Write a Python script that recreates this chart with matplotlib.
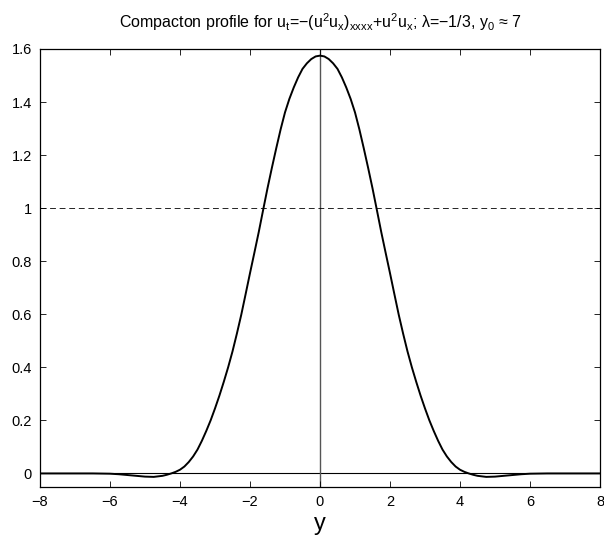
import numpy as np
import matplotlib
matplotlib.use("Agg")
import matplotlib.pyplot as plt

plt.rcParams['font.family'] = ['Liberation Sans', 'DejaVu Sans']
plt.rcParams['mathtext.fontset'] = 'custom'
plt.rcParams['mathtext.rm'] = 'Liberation Sans'
plt.rcParams['mathtext.it'] = 'Liberation Sans'
plt.rcParams['mathtext.default'] = 'regular'

# right half of the symmetric profile
x_half = [0, 0.125, 0.25, 0.375, 0.5, 0.625, 0.75, 0.875, 1.0, 1.125, 1.25,
          1.375, 1.5, 1.625, 1.75, 1.875, 2.0, 2.125, 2.25, 2.375, 2.5, 2.625,
          2.75, 2.875, 3.0, 3.125, 3.25, 3.375, 3.5, 3.625, 3.75, 3.875, 4.0,
          4.125, 4.25, 4.375, 4.5, 4.75, 5.0, 5.25, 5.5, 5.75, 6.0, 6.5, 7.0,
          7.5, 8.0]
u_half = [1.575, 1.572, 1.562, 1.546, 1.525, 1.493, 1.455, 1.412, 1.361, 1.297,
          1.226, 1.152, 1.075, 0.993, 0.91, 0.832, 0.755, 0.676, 0.598, 0.527,
          0.46, 0.4, 0.345, 0.293, 0.245, 0.2, 0.16, 0.123, 0.09, 0.064, 0.043,
          0.026, 0.014, 0.006, 0.0, -0.005, -0.009, -0.013, -0.012, -0.009,
          -0.006, -0.003, -0.001, 0.0, 0.0, 0.0, 0.0]
level = 1.0
xticks = [-8, -6, -4, -2, 0, 2, 4, 6, 8]
yticks = [0, 0.2, 0.4, 0.6, 0.8, 1.0, 1.2, 1.4, 1.6]
ytick_labels = ['0', '0.2', '0.4', '0.6', '0.8', '1', '1.2', '1.4', '1.6']
title = (r'Compacton profile for u$_{t}$=−(u$^{2}$u$_{x}$)$_{xxxx}$+u$^{2}$u$_{x}$; '
         r'λ=−1/3, y$_{0}$ ≈ 7')

xh = np.array(x_half)
uh = np.array(u_half)
x = np.concatenate([-xh[::-1], xh[1:]])
u = np.concatenate([uh[::-1], uh[1:]])

fig = plt.figure(figsize=(6.04, 5.42), dpi=100)
ax = fig.add_axes([40/604, 1-486.7/542, 560/604, (486.7-49)/542])

ax.axhline(0, color='black', lw=0.8, zorder=1)
ax.axvline(0, color='#555555', lw=1.0, zorder=1)
ax.axhline(level, color='black', lw=0.6, dashes=(7, 4.5), zorder=1)
ax.plot(x, u, color='black', lw=1.4, zorder=3, solid_joinstyle='round')

ax.set_xlim(-8, 8)
ax.set_ylim(-0.05, 1.6)
ax.set_xticks(xticks)
ax.set_xticklabels([str(t).replace('-', '−') for t in xticks])
ax.set_yticks(yticks)
ax.set_yticklabels(ytick_labels)
ax.tick_params(direction='in', top=True, right=True, length=4, width=0.6,
               labelsize=10.5, pad=6)
for s in ax.spines.values():
    s.set_linewidth(0.9)
ax.set_xlabel('y', fontsize=17, labelpad=3)
ax.set_title(title, fontsize=11.5, pad=15)

fig.savefig('out.png', dpi=100)
